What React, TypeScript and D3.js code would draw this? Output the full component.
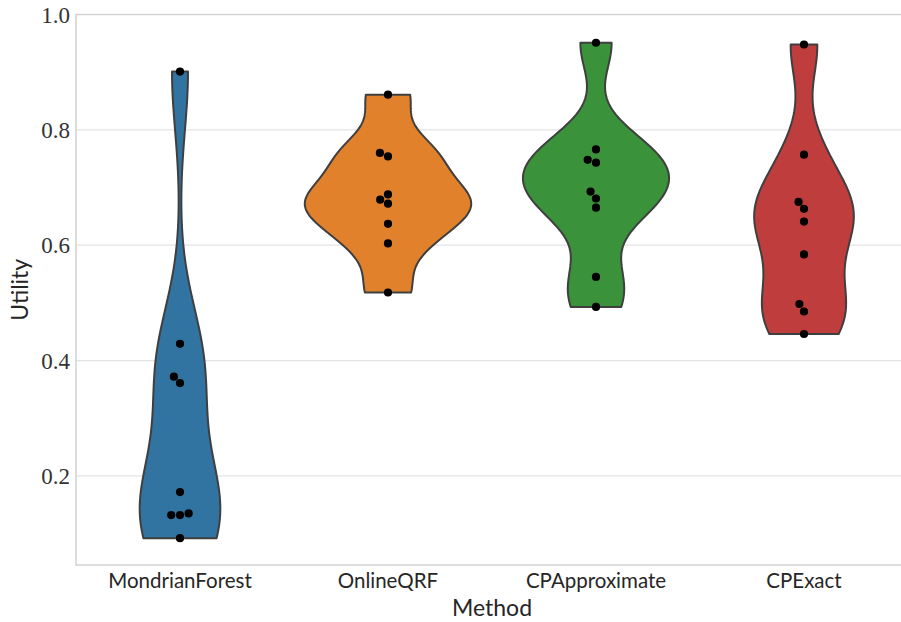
import React from "react";
import * as d3 from "d3";

// Utility scores per method (one value per run)
const methods = ["MondrianForest", "OnlineQRF", "CPApproximate", "CPExact"];
const mondrianForest = [0.901, 0.429, 0.372, 0.361, 0.172, 0.132, 0.132, 0.135, 0.092];
const onlineQRF = [0.861, 0.76, 0.754, 0.688, 0.679, 0.672, 0.637, 0.603, 0.518];
const cpApproximate = [0.951, 0.766, 0.748, 0.743, 0.693, 0.681, 0.665, 0.545, 0.493];
const cpExact = [0.948, 0.757, 0.675, 0.663, 0.641, 0.584, 0.498, 0.485, 0.446];
const yTicks = [0.2, 0.4, 0.6, 0.8, 1.0];
const colors = ["#3274a1", "#e1812c", "#3a923a", "#c03d3e"];

const series = [mondrianForest, onlineQRF, cpApproximate, cpExact];

const W = 901;
const H = 622;
const margin = { left: 76, top: 14.5, right: 908, bottom: 565 };
const BW_FACTOR = 0.4;

// Gaussian KDE, bandwidth = factor * sample std (ddof = 1)
function kde(values: number[], grid: number[]) {
  const n = values.length;
  const mean = d3.mean(values)!;
  const sd = Math.sqrt(d3.sum(values, (v) => (v - mean) ** 2) / (n - 1));
  const bw = sd * BW_FACTOR;
  return grid.map((g) => {
    const s = d3.sum(values, (v) => Math.exp(-0.5 * ((g - v) / bw) ** 2));
    return s / (n * bw * Math.sqrt(2 * Math.PI));
  });
}

// Beeswarm offsets in pixel space
function swarm(ys: number[], diam: number) {
  const order = d3.range(ys.length).sort((a, b) => ys[b] - ys[a]);
  const placed: { x: number; y: number }[] = [];
  const xs = new Array(ys.length).fill(0);
  for (const i of order) {
    const y = ys[i];
    const cands = [0];
    for (const p of placed) {
      const dy = Math.abs(p.y - y);
      if (dy < diam) {
        const dx = Math.sqrt(diam * diam - dy * dy);
        cands.push(p.x - dx, p.x + dx);
      }
    }
    const ok = cands
      .map((c, k) => ({ c, k }))
      .filter(({ c }) =>
        placed.every((p) => (p.x - c) ** 2 + (p.y - y) ** 2 >= diam * diam - 1e-6)
      )
      .sort((a, b) => Math.abs(a.c) - Math.abs(b.c) || a.k - b.k);
    const x = ok.length ? ok[0].c : 0;
    xs[i] = x;
    placed.push({ x, y });
  }
  return xs;
}

export default function App() {
  const x = d3.scaleBand<string>().domain(methods).range([margin.left, margin.right]);
  const y = d3.scaleLinear().domain([0.0455, 1.0]).range([margin.bottom, margin.top]);

  const gridsize = 100;
  const dens = series.map((vals) => {
    const [lo, hi] = d3.extent(vals) as [number, number];
    const grid = d3.range(gridsize).map((i) => lo + ((hi - lo) * i) / (gridsize - 1));
    return { grid, d: kde(vals, grid) };
  });
  const maxD = d3.max(dens, (o) => d3.max(o.d)!)!;
  const halfW = (x.bandwidth() * 0.8) / 2;

  const violins = dens.map((o, i) => {
    const cx = x(methods[i])! + x.bandwidth() / 2;
    const right: [number, number][] = o.grid.map((g, k) => [cx + (o.d[k] / maxD) * halfW, y(g)]);
    const left: [number, number][] = o.grid.map((g, k) => [cx - (o.d[k] / maxD) * halfW, y(g)]).reverse();
    const path = d3.line()([...right, ...left]) + "Z";
    return { path, cx };
  });

  const tickFont = "'Liberation Serif', 'DejaVu Serif', serif";
  const sansFont = "Lato, 'Open Sans', sans-serif";

  return (
    <svg width={W} height={H} style={{ position: "absolute", left: 0, top: 0, background: "#fff" }}>
      {/* gridlines */}
      {yTicks.map((t) => (
        <line key={t} x1={margin.left} x2={margin.right} y1={y(t)} y2={y(t)} stroke="#e4e4e4" strokeWidth={1.2} />
      ))}
      {/* frame */}
      <rect
        x={margin.left}
        y={margin.top}
        width={margin.right - margin.left}
        height={margin.bottom - margin.top}
        fill="none"
        stroke="#d2d2d2"
        strokeWidth={1.5}
      />
      {/* violins */}
      {violins.map((v, i) => (
        <path key={i} d={v.path} fill={colors[i]} stroke="#3f3f3f" strokeWidth={2} strokeLinejoin="round" />
      ))}
      {/* swarm points */}
      {series.map((vals, i) => {
        const ys = vals.map((v) => y(v));
        const offs = swarm(ys, 8.8);
        return vals.map((v, k) => (
          <circle key={`${i}-${k}`} cx={violins[i].cx + offs[k]} cy={ys[k]} r={4.1} fill="#000" />
        ));
      })}
      {/* y tick labels */}
      {yTicks.map((t) => (
        <text
          key={t}
          x={margin.left - 6}
          y={y(t)}
          dy="0.35em"
          textAnchor="end"
          fontFamily={tickFont}
          fontSize={23}
          fill="#333"
        >
          {t.toFixed(1)}
        </text>
      ))}
      {/* x tick labels */}
      {methods.map((m) => (
        <text
          key={m}
          x={x(m)! + x.bandwidth() / 2}
          y={588}
          textAnchor="middle"
          fontFamily={sansFont}
          fontSize={20.5}
          fill="#262626"
        >
          {m}
        </text>
      ))}
      <text x={(margin.left + margin.right) / 2} y={616} textAnchor="middle" fontFamily={sansFont} fontSize={23} fill="#262626">
        Method
      </text>
      <text
        transform={`translate(28,${(margin.top + margin.bottom) / 2}) rotate(-90)`}
        textAnchor="middle"
        fontFamily={sansFont}
        fontSize={23}
        fill="#262626"
      >
        Utility
      </text>
    </svg>
  );
}
